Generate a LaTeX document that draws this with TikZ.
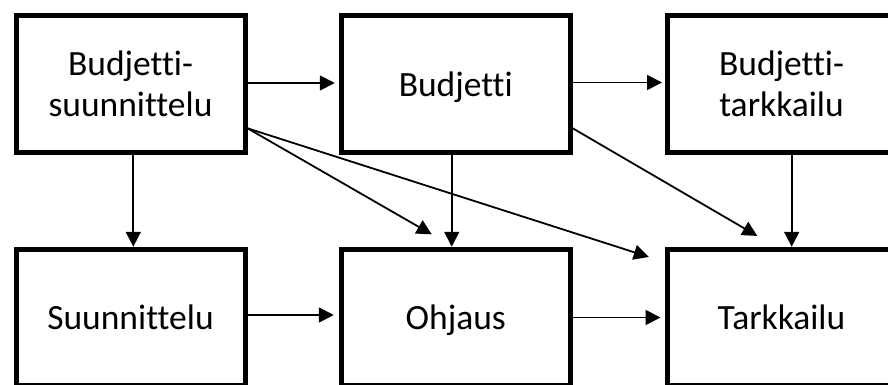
\documentclass[tikz,border=0pt]{standalone}
\usepackage{fontspec}
\setmainfont[Ligatures={NoCommon}]{Carlito}
\usetikzlibrary{arrows.meta,calc}

\tikzset{
  block/.style={draw=black, line width=5pt, fill=white, minimum width=229pt,
    minimum height=136.5pt, inner sep=0pt, align=center,
    font=\fontsize{35.5}{41}\selectfont},
  oneline/.style={text depth=0pt},
  flow/.style={line width=1.8pt, -{Triangle[length=15pt,width=15pt]}}
}

\begin{document}
\begin{tikzpicture}[x=1pt,y=-1pt]
  \fill[white] (0,0) rectangle (888,385);
  \useasboundingbox (0,0) rectangle (888,385);
  \clip (0,0) rectangle (888,385);

  % budget row
  \node[block] (bsuun) at (130.5,84)   {Budjetti-\\suunnittelu};
  \node[block, oneline] (bud) at (455.75,84) {Budjetti};
  \node[block] (btark) at (781.5,84)   {Budjetti-\\tarkkailu};

  % management row
  \node[block, oneline] (suun) at (130.5,317.5)  {Suunnittelu};
  \node[block, oneline] (ohj)  at (455.75,317.5) {Ohjaus};
  \node[block, oneline] (tark) at (781.5,317.5)  {Tarkkailu};

  % horizontal flows
  \draw[flow, shorten >=4pt] ($(bsuun.east)+(0,-1)$) -- ($(bud.west)+(0,-1)$);
  \draw[flow, shorten >=2.5pt] ($(bud.east)+(0,-1.5)$) -- ($(btark.west)+(0,-1.5)$);
  \draw[flow, shorten >=5pt] ($(suun.east)+(0,-2.5)$) -- ($(ohj.west)+(0,-2.5)$);
  \draw[flow, shorten >=4pt] (ohj.east) -- (tark.west);

  % vertical flows
  \draw[flow] ($(bsuun.south)+(2.8,0)$) -- ($(suun.north)+(2.8,0)$);
  \draw[flow] ($(bud.south)+(-4,0)$) -- ($(ohj.north)+(-4,0)$);
  \draw[flow] ($(btark.south)+(10.2,0)$) -- ($(tark.north)+(10.2,0)$);

  % diagonal flows
  \draw[flow] ($(bsuun.east)+(0,44.3)$) -- ($(ohj.north)+(-24,-12.4)$);
  \draw[flow] ($(bsuun.east)+(0,44.3)$) -- ($(tark.north west)+(-15.7,10.2)$);
  \draw[flow] ($(bud.east)+(0,44.3)$) -- ($(tark.north)+(-24.2,-10.8)$);
\end{tikzpicture}
\end{document}
